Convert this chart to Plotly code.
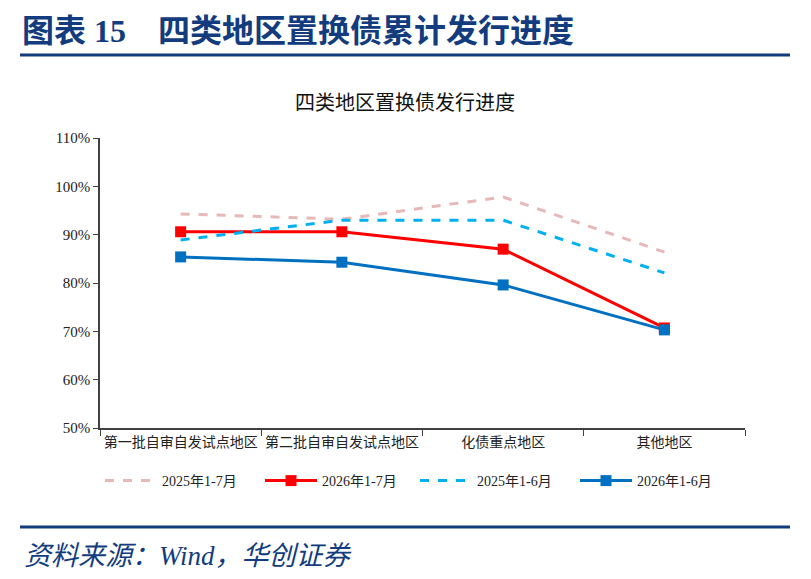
import plotly.graph_objects as go

categories = ["第一批自审自发试点地区", "第二批自审自发试点地区", "化债重点地区", "其他地区"]
s2025_7 = [94.3, 93.2, 97.8, 86.4]
s2026_7 = [90.6, 90.6, 87.0, 70.7]
s2025_6 = [88.9, 93.0, 93.0, 82.1]
s2026_6 = [85.4, 84.3, 79.6, 70.3]
yticks = [50, 60, 70, 80, 90, 100, 110]
ytick_labels = ["50%", "60%", "70%", "80%", "90%", "100%", "110%"]

OFF = 8  # page body margin
W, H = 811 - OFF, 579 - OFF
L, R, T, B = 100 - OFF, 745 - OFF, 138 - OFF, 428 - OFF

def px(x):
    return (x - OFF - L) / (R - L)

def py(y):
    return (B - (y - OFF)) / (B - T)

fig = go.Figure()
fig.add_trace(go.Scatter(x=categories, y=s2025_7, name="2025年1-7月", mode="lines",
                         line=dict(color="#E6B9B8", width=3, dash="dash"), legend="legend"))
fig.add_trace(go.Scatter(x=categories, y=s2026_7, name="2026年1-7月", mode="lines+markers",
                         line=dict(color="#FF0000", width=3),
                         marker=dict(symbol="square", size=11, color="#FF0000"), legend="legend2"))
fig.add_trace(go.Scatter(x=categories, y=s2025_6, name="2025年1-6月", mode="lines",
                         line=dict(color="#00B0F0", width=3, dash="dash"), legend="legend3"))
fig.add_trace(go.Scatter(x=categories, y=s2026_6, name="2026年1-6月", mode="lines+markers",
                         line=dict(color="#0070C0", width=3),
                         marker=dict(symbol="square", size=11, color="#0070C0"), legend="legend4"))

navy = "#123C7E"
legfont = dict(size=14, family="Liberation Serif, Noto Sans CJK SC", color="#222222")

def leg(xpix):
    return dict(orientation="h", x=px(xpix), y=py(481), xanchor="left", yanchor="middle",
                font=legfont, bgcolor="rgba(0,0,0,0)", itemwidth=52)

fig.update_layout(
    width=W, height=H,
    margin=dict(l=L, r=W - R, t=T, b=H - B),
    plot_bgcolor="white", paper_bgcolor="white",
    font=dict(family="Liberation Serif, Noto Sans CJK SC", color="#222222", size=12),
    showlegend=True,
    legend=leg(100), legend2=leg(260), legend3=leg(415), legend4=leg(575),
    xaxis=dict(type="category", showline=True, linecolor="#404040", linewidth=1.5,
               ticks="outside", tickson="boundaries", ticklen=6, tickcolor="#404040",
               showgrid=False, range=[-0.5, 3.5], tickangle=0,
               tickfont=dict(size=14, family="Noto Sans CJK SC", color="#222222")),
    yaxis=dict(range=[50, 110], tickvals=yticks, ticktext=ytick_labels, showline=True,
               linecolor="#404040", linewidth=1.5, ticks="outside", ticklen=5,
               tickcolor="#404040", showgrid=False, zeroline=False,
               tickfont=dict(size=15, family="Liberation Serif", color="#222222")),
)

# header and footer rules
for yy in (55, 527):
    fig.add_shape(type="line", xref="paper", yref="paper", x0=px(20), x1=px(790),
                  y0=py(yy), y1=py(yy), line=dict(color=navy, width=3))

fig.add_annotation(text="<b>图表 15    四类地区置换债累计发行进度</b>", xref="paper", yref="paper",
                   x=px(20), y=py(31), xanchor="left", yanchor="middle", showarrow=False,
                   font=dict(size=32, color=navy, family="Liberation Serif, Noto Sans CJK SC"))
fig.add_annotation(text="四类地区置换债发行进度", xref="paper", yref="paper",
                   x=px(405), y=py(101), xanchor="center", yanchor="middle", showarrow=False,
                   font=dict(size=20, color="#111111", family="Noto Sans CJK SC"))
fig.add_annotation(text="<i>资料来源：Wind，华创证券</i>", xref="paper", yref="paper",
                   x=px(22), y=py(556), xanchor="left", yanchor="middle", showarrow=False,
                   font=dict(size=27, color=navy, family="Liberation Serif, Noto Sans CJK SC"))

fig.write_html("out.html")
